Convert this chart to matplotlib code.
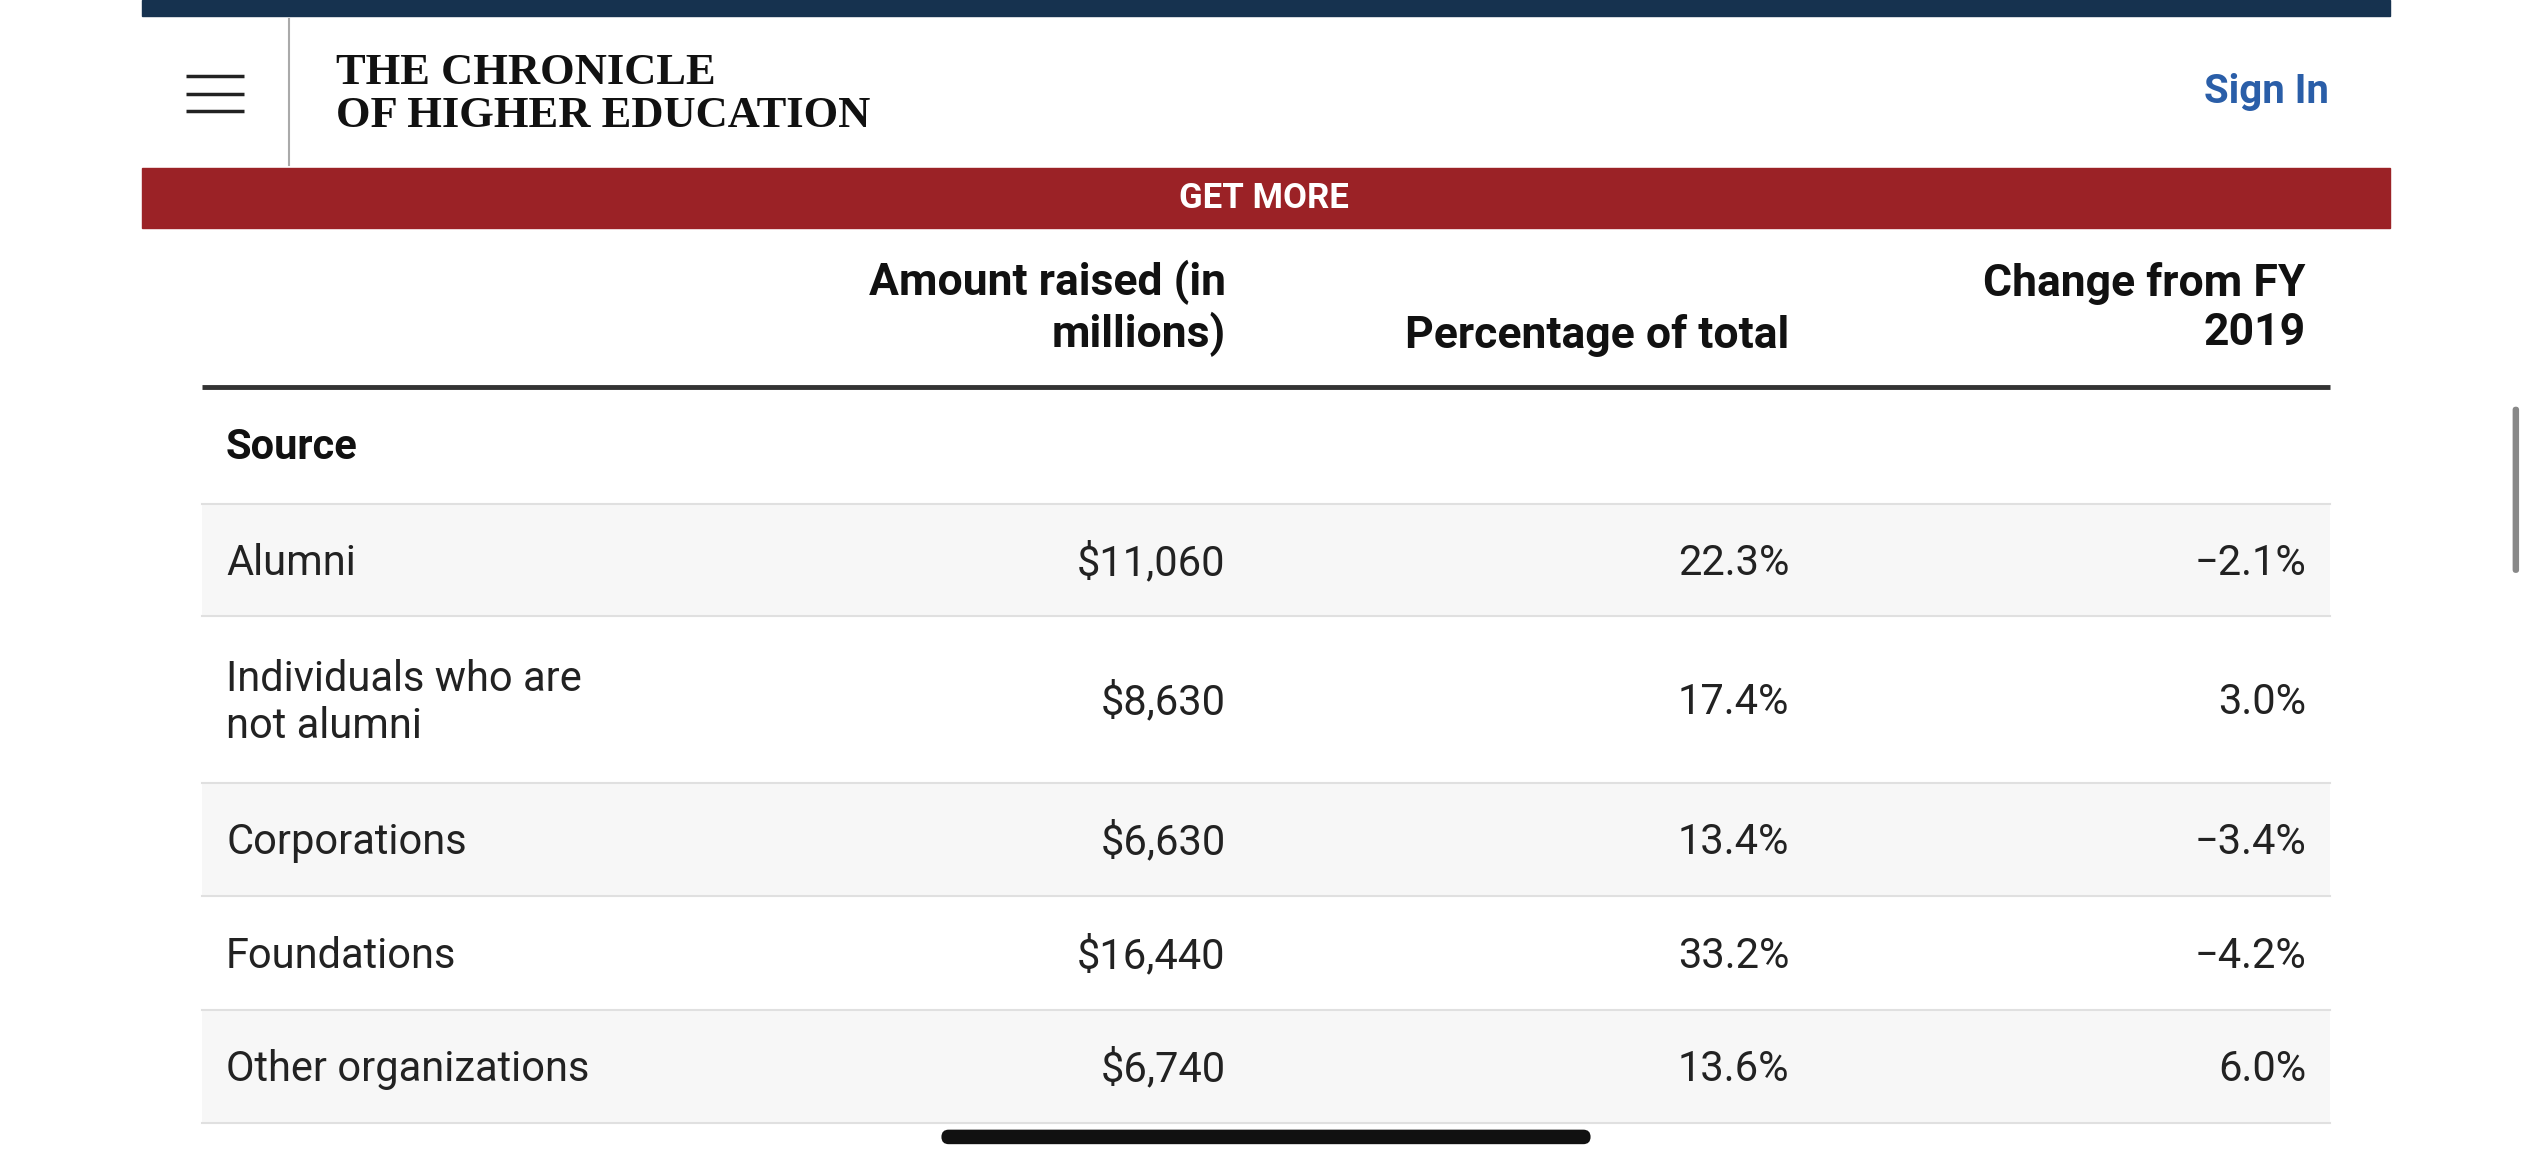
import matplotlib
matplotlib.use("Agg")
import matplotlib.pyplot as plt
from matplotlib.patches import Rectangle, FancyBboxPatch

sources = ["Alumni", "Individuals who are\nnot alumni", "Corporations", "Foundations", "Other organizations"]
amounts = ["$11,060", "$8,630", "$6,630", "$16,440", "$6,740"]
percents = ["22.3%", "17.4%", "13.4%", "33.2%", "13.6%"]
changes = ["\u22122.1%", "3.0%", "\u22123.4%", "\u22124.2%", "6.0%"]
col_headers = ["Amount raised (in\nmillions)", "Percentage of total", "Change from FY\n2019"]

plt.rcParams['font.family'] = ['Roboto', 'DejaVu Sans']
fig = plt.figure(figsize=(25.32, 11.7), dpi=100)
ax = fig.add_axes([0, 0, 1, 1])
ax.set_xlim(0, 1568); ax.set_ylim(725, 0); ax.axis('off')

ax.add_patch(Rectangle((88, 0), 1392, 10, color='#16324f'))
for y in (47, 58, 69):
    ax.plot([115, 151], [y, y], color='#222', lw=2.5, solid_capstyle='butt')
ax.plot([179, 179], [12, 102], color='#aaa', lw=1.5)
ax.text(208, 45, "THE CHRONICLE", family='Liberation Serif', fontweight='bold', fontsize=32, va='center', color='#111')
ax.text(208, 72, "OF HIGHER EDUCATION", family='Liberation Serif', fontweight='bold', fontsize=32, va='center', color='#111')
ax.text(1442, 57, "Sign In", fontsize=29, fontweight='bold', color='#2a5ea8', ha='right', va='center')
ax.add_patch(Rectangle((88, 104), 1392, 37, color='#9b2226'))
ax.text(783, 123, "GET MORE", fontsize=25, fontweight='bold', color='white', ha='center', va='center')

hfs = 32
fs = 30
xs = [759, 1108, 1428]
ax.text(xs[0], 191, col_headers[0], fontsize=hfs, fontweight='bold', ha='right', va='center', linespacing=1.2, color='#111')
ax.text(xs[1], 208, col_headers[1], fontsize=hfs, fontweight='bold', ha='right', va='center', color='#111')
ax.text(xs[2], 191, col_headers[2], fontsize=hfs, fontweight='bold', ha='right', va='center', linespacing=1.2, color='#111')
ax.plot([125, 1443], [240, 240], color='#333', lw=3.5, solid_capstyle='butt')
ax.text(140, 277, "Source", fontsize=30, fontweight='bold', va='center', color='#111')

bounds = [312, 382, 485, 555, 626, 696]
for i in range(len(sources)):
    y0, y1 = bounds[i], bounds[i + 1]
    if i % 2 == 0:
        ax.add_patch(Rectangle((125, y0), 1318, y1 - y0, color='#f7f7f7', lw=0))
    ax.plot([125, 1443], [y0, y0], color='#e0e0e0', lw=1.5)
    yc = (y0 + y1) / 2 + 2
    ax.text(140, yc, sources[i], fontsize=fs, va='center', color='#222', linespacing=1.2)
    for x, v in zip(xs, (amounts[i], percents[i], changes[i])):
        ax.text(x, yc, v, fontsize=fs, va='center', ha='right', color='#222')
ax.plot([125, 1443], [696, 696], color='#e0e0e0', lw=1.5)

ax.add_patch(FancyBboxPatch((1556, 252), 4, 103, boxstyle="round,pad=0,rounding_size=2", color='#888', lw=0))
ax.add_patch(FancyBboxPatch((583, 700), 402, 9, boxstyle="round,pad=0,rounding_size=4.5", color='#111', lw=0))

fig.savefig("out.png", dpi=100)
